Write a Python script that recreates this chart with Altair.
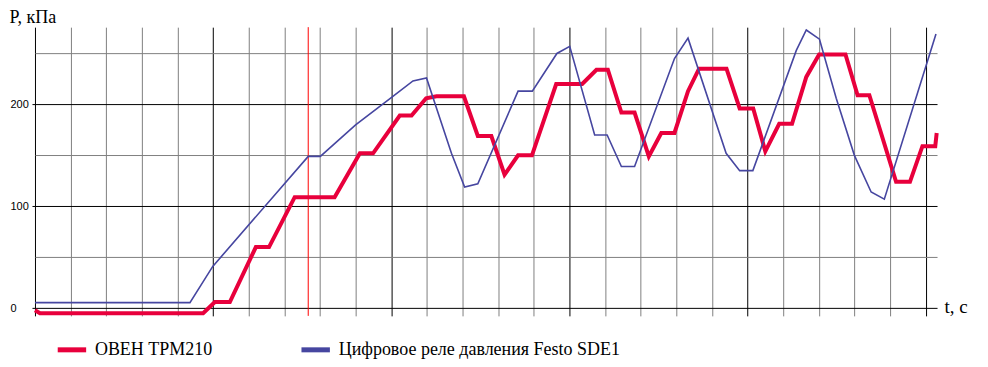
import altair as alt
import pandas as pd

# ОВЕН ТРМ210 (red, thick)
oven_t = [0, 0.14, 4.72, 5.05, 5.47, 6.20, 6.57, 7.29, 8.41, 9.12, 9.49, 10.24, 10.57,
          10.98, 11.27, 12.04, 12.43, 12.81, 13.18, 13.56, 13.95, 14.63, 15.36, 15.76,
          16.08, 16.46, 16.83, 17.23, 17.58, 17.95, 18.33, 18.64, 19.41, 19.78, 20.16,
          20.50, 20.89, 21.25, 21.65, 22.01, 22.75, 23.09, 23.42, 24.17, 24.56, 24.91,
          25.27, 25.31]
oven_p = [-2, -5, -5, 6, 6, 60, 60, 109, 109, 152, 152, 189, 189,
          206, 208, 208, 169, 169, 131, 150, 150, 220, 220, 234,
          234, 192, 192, 149, 172, 172, 213, 235, 235, 196, 196,
          154, 181, 181, 227, 249, 249, 209, 209, 124, 124, 159,
          159, 172]

# Festo SDE1 (blue, thin)
festo_t = [0, 4.35, 4.99, 7.67, 8.01, 9.00, 10.01, 10.61, 10.99, 11.69, 12.06, 12.43,
           13.56, 13.96, 14.65, 15.01, 15.71, 16.06, 16.46, 16.83, 17.95, 18.33, 19.40,
           19.78, 20.15, 21.37, 21.65, 22.02, 22.49, 23.00, 23.47, 23.84, 25.29]
festo_p = [5.5, 5.5, 41, 149, 149, 180, 207, 223, 226, 152, 119, 122,
           213, 213, 250, 257, 170, 170, 139, 139, 245, 265, 152,
           135, 135, 253, 273, 264, 206, 150, 114, 107, 269]

cursor_t = [7.67]

series_names = ["ОВЕН ТРМ210", "Цифровое реле давления Festo SDE1"]
series_colors = ["#E8003C", "#4646A0"]

y_grid = [0, 50, 100, 150, 200, 250]
x_grid = list(range(26))
x_domain = [0, 25.32]
y_domain = [-7.5, 275.8]

SERIF = "Liberation Serif, Times New Roman, DejaVu Serif, serif"

df_oven = pd.DataFrame({"t": oven_t, "p": oven_p, "s": series_names[0]})
df_festo = pd.DataFrame({"t": festo_t, "p": festo_p, "s": series_names[1]})
df_cursor = pd.DataFrame({"t": cursor_t})

x_scale = alt.Scale(domain=x_domain, nice=False, zero=False)
y_scale = alt.Scale(domain=y_domain, nice=False, zero=False)

x_axis = alt.Axis(
    values=x_grid, grid=True,
    gridColor={"condition": {"test": "datum.value % 5 === 0", "value": "#000000"}, "value": "#808080"},
    gridWidth=1, gridOpacity=1,
    labels=False, ticks=False, domain=False,
    title="t, с", titleAngle=0, titleX=910, titleY=-3, titleAlign="left",
    titleBaseline="alphabetic", titleFont=SERIF, titleFontSize=19,
    titleFontWeight="normal", titleColor="black",
)
y_axis = alt.Axis(
    values=y_grid, grid=True,
    gridColor={"condition": {"test": "datum.value % 100 === 0", "value": "#000000"}, "value": "#808080"},
    gridWidth=1, gridOpacity=1,
    ticks=True, tickSize=3,
    tickColor={"condition": {"test": "datum.value % 100 === 0", "value": "#000000"}, "value": "transparent"},
    labelExpr="datum.value % 100 === 0 ? datum.label : ''",
    labelAlign="left", labelPadding=22, labelFont="Liberation Sans", labelFontSize=11,
    labelColor="black", labelFlush=False, labelOverlap=False, labelBound=False,
    domain=False,
    title="P, кПа", titleAngle=0, titleX=-26, titleY=-19, titleAlign="left",
    titleBaseline="top", titleFont=SERIF, titleFontSize=18,
    titleFontWeight="normal", titleColor="black",
)

legend = alt.Legend(
    orient="none", legendX=20, legendY=306, direction="horizontal",
    symbolType="stroke", symbolSize=810, symbolStrokeWidth=5,
    labelFont=SERIF, labelFontSize=18, labelColor="black",
    labelOffset=6, columnPadding=78, title=None, padding=0, labelLimit=0,
)
color_enc = alt.Color("s:N", scale=alt.Scale(domain=series_names, range=series_colors), legend=legend)

cursor = alt.Chart(df_cursor).mark_rule(color="#FF0000", strokeWidth=1).encode(
    x=alt.X("t:Q", scale=x_scale, axis=x_axis)
)

oven = alt.Chart(df_oven).mark_line(strokeWidth=4).encode(
    x=alt.X("t:Q", scale=x_scale, axis=x_axis),
    y=alt.Y("p:Q", scale=y_scale, axis=y_axis),
    color=color_enc,
    order="t:Q",
)

festo = alt.Chart(df_festo).mark_line(strokeWidth=1.6).encode(
    x=alt.X("t:Q", scale=x_scale, axis=x_axis),
    y=alt.Y("p:Q", scale=y_scale, axis=y_axis),
    color=color_enc,
    order="t:Q",
)

chart = alt.layer(cursor, oven, festo).properties(
    width=903, height=289,
    padding={"left": 27, "top": 19, "right": 43, "bottom": 43},
    autosize=alt.AutoSizeParams(type="none"),
    background="white",
).configure_view(stroke=None)

chart.save("out.html", embed_options={"renderer": "svg", "actions": False})
